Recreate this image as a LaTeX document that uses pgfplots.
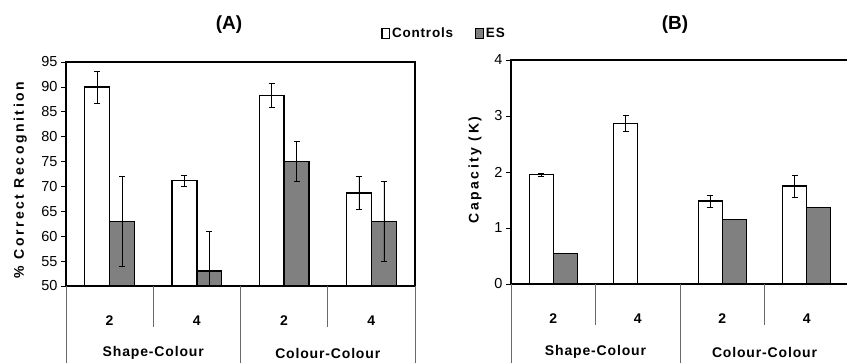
\documentclass[border=0pt]{standalone}
\usepackage{fontspec}
\setmainfont{Liberation Sans}
\newfontfamily\lsfont[LetterSpace=18]{Liberation Sans}
\newfontfamily\gsfont[LetterSpace=6]{Liberation Sans}
\usepackage{pgfplots}
\pgfplotsset{compat=1.18}
\definecolor{esgray}{RGB}{128,128,128}
\definecolor{sepgray}{RGB}{105,105,105}
\pgfplotsset{
  common/.style={
    scale only axis, height=224pt,
    ybar, xmin=-0.5, xmax=3.5,
    xtick={0,1,2,3}, xticklabels={2,4,2,4},
    major x tick style={draw=none},
    xticklabel style={font=\bfseries\fontsize{14}{14}\selectfont, anchor=center, yshift=-30pt},
    ytick pos=left, tick align=outside, major tick length=5pt,
    major y tick style={black, line width=0.6pt},
    yticklabel style={font=\fontsize{14.5}{14.5}\selectfont},
    /pgf/number format/assume math mode=true,
    axis line style={line width=1.3pt},
    clip mode=individual,
    ylabel style={font=\lsfont\bfseries\fontsize{14}{14}\selectfont, anchor=center},
    error bars/error bar style={black, line width=0.6pt},
    error bars/error mark options={rotate=90, black, mark size=3pt, line width=0.6pt},
  },
  ctrl/.style={fill=white, draw=black, line width=1.3pt},
  es/.style={fill=esgray, draw=black, line width=1.3pt},
}
\begin{document}
\begin{tikzpicture}
\path[use as bounding box] (0pt,0pt) rectangle (847pt,362pt);
% Panel A
\begin{axis}[common, at={(66pt,76pt)}, anchor=south west, width=349pt,
  ymin=50, ymax=95, ytick={50,55,...,95}, bar width=0.286,
  ylabel={\% Correct Recognition},
  ylabel style={at={(axis description cs:-0.131,0.473)}},
  legend columns=2,
  legend style={at={(axis description cs:0.9026,1.128)}, anchor=west, draw=none, fill=none,
    inner sep=0pt, font=\gsfont\bfseries\fontsize{13.5}{13.5}\selectfont,
    /tikz/every even column/.append style={column sep=20pt}},
  legend image code/.code={\draw[#1, line width=1.3pt] (0pt,-5pt) rectangle (7.5pt,5pt);},
]
\addplot[ctrl, bar shift=-0.143, error bars/.cd, y dir=both, y explicit] coordinates {
  (0,90) +- (0,3.2)
  (1,71.2) +- (0,1.1)
  (2,88.3) +- (0,2.4)
  (3,68.7) +- (0,3.3)
};
\addlegendentry{Controls}
\addplot[es, bar shift=0.143, error bars/.cd, y dir=both, y explicit] coordinates {
  (0,63) +- (0,9)
  (1,53) +- (0,8)
  (2,75) +- (0,4)
  (3,63) +- (0,8)
};
\addlegendentry{ES}
\draw[sepgray, line width=1pt] (axis cs:-0.5,50) -- ([yshift=-80pt]axis cs:-0.5,50);
\draw[sepgray, line width=1pt] (axis cs:1.5,50) -- ([yshift=-80pt]axis cs:1.5,50);
\draw[sepgray, line width=1pt] (axis cs:3.5,50) -- ([yshift=-80pt]axis cs:3.5,50);
\draw[sepgray, line width=1pt] (axis cs:0.5,50) -- ([yshift=-41pt]axis cs:0.5,50);
\draw[sepgray, line width=1pt] (axis cs:2.5,50) -- ([yshift=-41pt]axis cs:2.5,50);
\node[font=\gsfont\bfseries\fontsize{14}{14}\selectfont] at ([yshift=-67pt]axis cs:0.5,50) {Shape-Colour};
\node[font=\gsfont\bfseries\fontsize{14}{14}\selectfont] at ([yshift=-67pt]axis cs:2.5,50) {Colour-Colour};
\end{axis}
% Panel B
\begin{axis}[common, at={(511pt,78pt)}, anchor=south west, width=338pt,
  ymin=0, ymax=4, ytick={0,1,2,3,4}, bar width=0.283,
  ylabel={Capacity (K)},
  ylabel style={at={(axis description cs:-0.1065,0.509)}},
]
\addplot[ctrl, bar shift=-0.142, error bars/.cd, y dir=both, y explicit] coordinates {
  (0,1.95) +- (0,0.03)
  (1,2.87) +- (0,0.15)
  (2,1.48) +- (0,0.11)
  (3,1.75) +- (0,0.2)
};
\addplot[es, bar shift=0.142] coordinates {
  (0,0.55)
  (2,1.15)
  (3,1.37)
};
\draw[sepgray, line width=1pt] (axis cs:-0.5,0) -- ([yshift=-80pt]axis cs:-0.5,0);
\draw[sepgray, line width=1pt] (axis cs:1.5,0) -- ([yshift=-80pt]axis cs:1.5,0);
\draw[sepgray, line width=1pt] (axis cs:3.5,0) -- ([yshift=-80pt]axis cs:3.5,0);
\draw[sepgray, line width=1pt] (axis cs:0.5,0) -- ([yshift=-41pt]axis cs:0.5,0);
\draw[sepgray, line width=1pt] (axis cs:2.5,0) -- ([yshift=-41pt]axis cs:2.5,0);
\node[font=\gsfont\bfseries\fontsize{14}{14}\selectfont] at ([yshift=-68pt]axis cs:0.5,0) {Shape-Colour};
\node[font=\gsfont\bfseries\fontsize{14}{14}\selectfont] at ([yshift=-68pt]axis cs:2.5,0) {Colour-Colour};
\end{axis}
\node[font=\bfseries\fontsize{19}{19}\selectfont] at (229pt,337pt) {(A)};
\node[font=\bfseries\fontsize{19}{19}\selectfont] at (675pt,337pt) {(B)};
\end{tikzpicture}
\end{document}
